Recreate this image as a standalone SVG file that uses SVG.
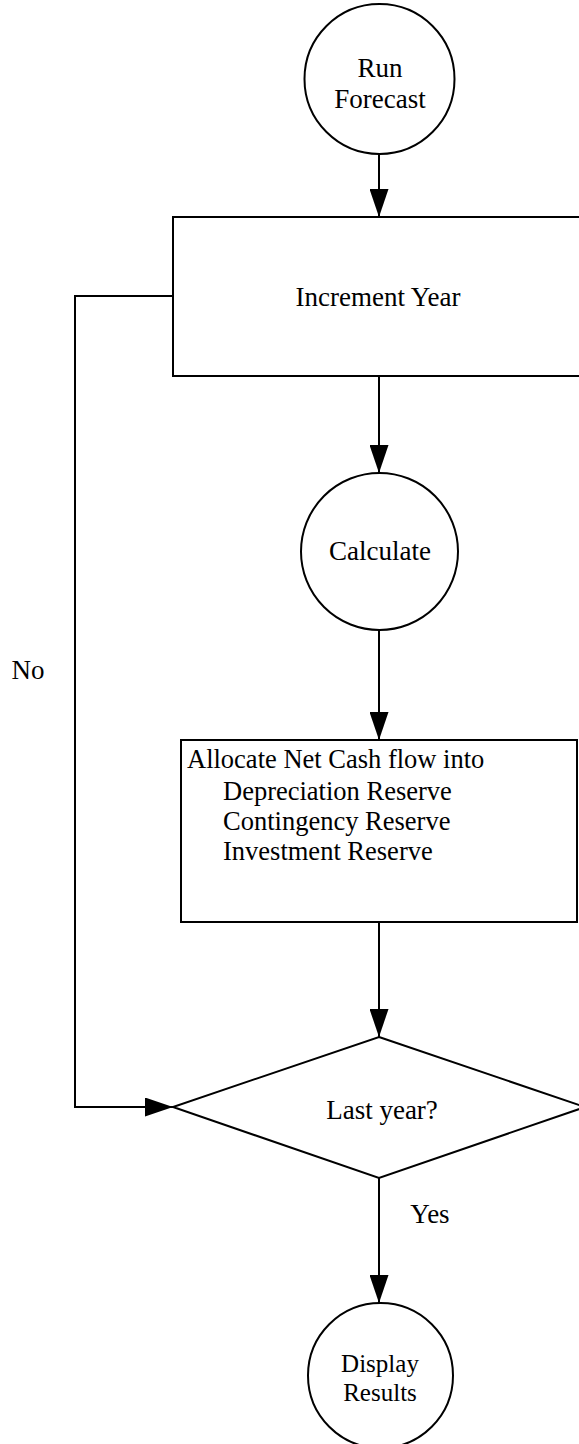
<svg xmlns="http://www.w3.org/2000/svg" width="579" height="1444" viewBox="0 0 579 1444">
  <defs>
    <marker id="arrow" markerUnits="userSpaceOnUse" markerWidth="28" markerHeight="19" refX="28" refY="9.5" orient="auto">
      <path d="M0,0 L28,9.5 L0,19 z" fill="#000"/>
    </marker>
    <style>
      .shape { fill: #fff; stroke: #000; stroke-width: 2; }
      .edge { fill: none; stroke: #000; stroke-width: 2; marker-end: url(#arrow); }
      text { font-family: "Liberation Serif", "Times New Roman", serif; font-size: 27px; fill: #000; }
      .c { text-anchor: middle; }
      .s { font-size: 25px; }
      .body { font-size: 26.5px; }
    </style>
  </defs>
  <rect width="579" height="1444" fill="#fff"/>

  <!-- flow connectors -->
  <g id="connectors">
    <path class="edge" d="M379,155 L379,217"/>
    <path class="edge" d="M379,376 L379,473"/>
    <path class="edge" d="M379,630 L379,740"/>
    <path class="edge" d="M379,922 L379,1037"/>
    <path class="edge" d="M379,1178 L379,1303"/>
    <path class="edge" d="M172,296 L75,296 L75,1107 L173,1107"/>
    <text x="28" y="679" class="c">No</text>
    <text x="430" y="1223" class="c">Yes</text>
  </g>

  <g id="run-forecast">
    <circle class="shape" cx="379.5" cy="79" r="75"/>
    <text x="380" y="77" class="c">Run</text>
    <text x="380" y="108" class="c">Forecast</text>
  </g>

  <g id="increment-year">
    <rect class="shape" x="173" y="217" width="420" height="159"/>
    <text x="378" y="306" class="c">Increment Year</text>
  </g>

  <g id="calculate">
    <circle class="shape" cx="379.5" cy="551.5" r="78.5"/>
    <text x="380" y="560" class="c">Calculate</text>
  </g>

  <g id="allocate">
    <rect class="shape" x="181" y="740" width="396" height="182"/>
    <text class="body" x="187" y="768">Allocate Net Cash flow into</text>
    <text class="body" x="223" y="800">Depreciation Reserve</text>
    <text class="body" x="223" y="830">Contingency Reserve</text>
    <text class="body" x="223" y="860">Investment Reserve</text>
  </g>

  <g id="last-year">
    <polygon class="shape" points="379,1037 585,1107 379,1178 173,1107"/>
    <text x="382" y="1119" class="c">Last year?</text>
  </g>

  <g id="display-results">
    <circle class="shape" cx="380.5" cy="1375.5" r="72.5"/>
    <text x="380" y="1372" class="c s">Display</text>
    <text x="380" y="1401" class="c s">Results</text>
  </g>
</svg>
